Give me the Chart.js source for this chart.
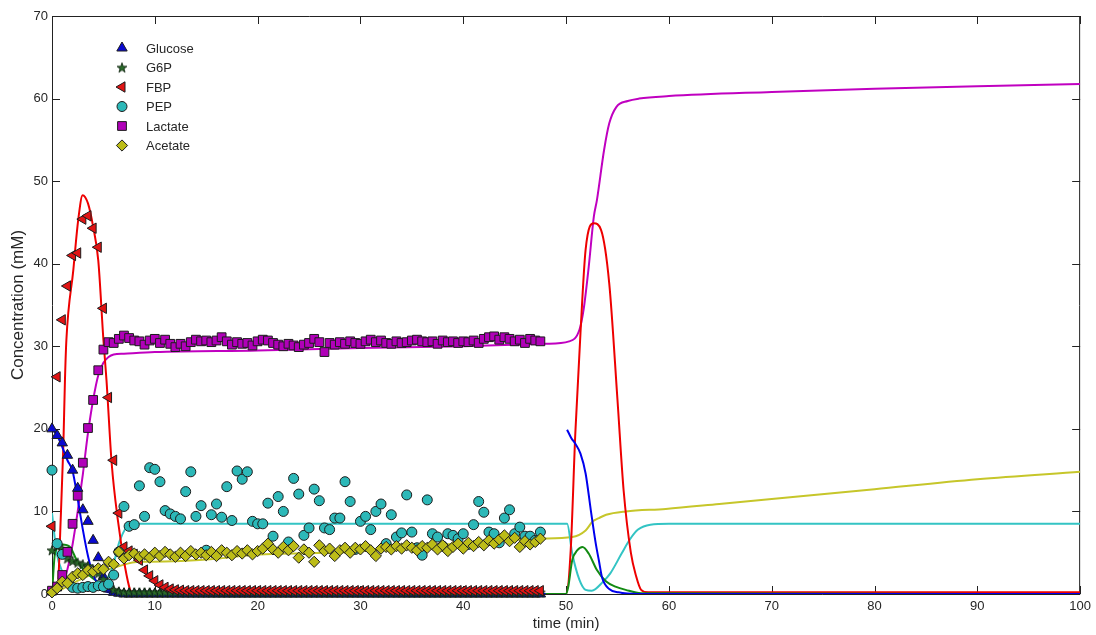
<!DOCTYPE html>
<html>
<head>
<meta charset="utf-8">
<script src="https://cdn.jsdelivr.net/npm/chart.js@4.4.0/dist/chart.umd.min.js"></script>
<style>
  html, body { margin: 0; padding: 0; background: #fff; }
  #wrap { width: 1096px; height: 635px; }
</style>
</head>
<body>
<div id="wrap"><canvas id="chart" width="1096" height="635"></canvas></div>
<script>
// measured samples (min)
const sampleTimes = [
  0, 0.5, 1, 1.5, 2, 2.5, 3, 3.5, 4, 4.5,
  5, 5.5, 6, 6.5, 7, 7.5, 8, 8.5, 9, 9.5,
  10, 10.5, 11, 11.5, 12, 12.5, 13, 13.5, 14, 14.5,
  15, 15.5, 16, 16.5, 17, 17.5, 18, 18.5, 19, 19.5,
  20, 20.5, 21, 21.5, 22, 22.5, 23, 23.5, 24, 24.5,
  25, 25.5, 26, 26.5, 27, 27.5, 28, 28.5, 29, 29.5,
  30, 30.5, 31, 31.5, 32, 32.5, 33, 33.5, 34, 34.5,
  35, 35.5, 36, 36.5, 37, 37.5, 38, 38.5, 39, 39.5,
  40, 40.5, 41, 41.5, 42, 42.5, 43, 43.5, 44, 44.5,
  45, 45.5, 46, 46.5, 47, 47.5
];
const glucosePts = [
  20, 19.2, 18.3, 16.8, 15.0, 12.8, 10.2, 8.8, 6.5, 4.4,
  2.1, 0.6, 0.2, 0.1, 0, 0, 0, 0, 0, 0,
  0, 0, 0, 0, 0, 0, 0, 0, 0, 0,
  0, 0, 0, 0, 0, 0, 0, 0, 0, 0,
  0, 0, 0, 0, 0, 0, 0, 0, 0, 0,
  0, 0, 0, 0, 0, 0, 0, 0, 0, 0,
  0, 0, 0, 0, 0, 0, 0, 0, 0, 0,
  0, 0, 0, 0, 0, 0, 0, 0, 0, 0,
  0, 0, 0, 0, 0, 0, 0, 0, 0, 0,
  0, 0, 0, 0, 0, 0
];
const g6pPts = [
  5.3, 5.8, 5.5, 4.3, 4.0, 3.8, 3.6, 3.4, 3.0, 2.5,
  1.8, 1.0, 0.5, 0.3, 0.2, 0.2, 0.2, 0.2, 0.2, 0.2,
  0.2, 0.2, 0.2, 0.2, 0.2, 0.2, 0.2, 0.2, 0.2, 0.2,
  0.2, 0.2, 0.2, 0.2, 0.2, 0.2, 0.2, 0.2, 0.2, 0.2,
  0.2, 0.2, 0.2, 0.2, 0.2, 0.2, 0.2, 0.2, 0.2, 0.2,
  0.2, 0.2, 0.2, 0.2, 0.2, 0.2, 0.2, 0.2, 0.2, 0.2,
  0.2, 0.2, 0.2, 0.2, 0.2, 0.2, 0.2, 0.2, 0.2, 0.2,
  0.2, 0.2, 0.2, 0.2, 0.2, 0.2, 0.2, 0.2, 0.2, 0.2,
  0.2, 0.2, 0.2, 0.2, 0.2, 0.2, 0.2, 0.2, 0.2, 0.2,
  0.2, 0.2, 0.2, 0.2, 0.2, 0.2
];
const fbpPts = [
  8.2, 26.3, 33.2, 37.3, 41.0, 41.3, 45.4, 45.8, 44.3, 42.0,
  34.6, 23.8, 16.2, 9.8, 5.7, 5.2, 4.8, 4.1, 2.9, 2.2,
  1.6, 1.1, 0.8, 0.6, 0.5, 0.45, 0.4, 0.4, 0.4, 0.4,
  0.4, 0.4, 0.4, 0.4, 0.4, 0.4, 0.4, 0.4, 0.4, 0.4,
  0.4, 0.4, 0.4, 0.4, 0.4, 0.4, 0.4, 0.4, 0.4, 0.4,
  0.4, 0.4, 0.4, 0.4, 0.4, 0.4, 0.4, 0.4, 0.4, 0.4,
  0.4, 0.4, 0.4, 0.4, 0.4, 0.4, 0.4, 0.4, 0.4, 0.4,
  0.4, 0.4, 0.4, 0.4, 0.4, 0.4, 0.4, 0.4, 0.4, 0.4,
  0.4, 0.4, 0.4, 0.4, 0.4, 0.4, 0.4, 0.4, 0.4, 0.4,
  0.4, 0.4, 0.4, 0.4, 0.4, 0.4
];
const pepPts = [
  15.0, 6.1, 4.8, 1.5, 0.8, 0.7, 0.8, 0.9, 0.8, 1.0,
  0.9, 1.2, 2.3, 5.1, 10.6, 8.2, 8.4, 13.1, 9.4, 15.3,
  15.1, 13.6, 10.1, 9.7, 9.4, 9.1, 12.4, 14.8, 9.4, 10.7,
  5.3, 9.6, 10.9, 9.3, 13.0, 8.9, 14.9, 13.9, 14.8, 8.8,
  8.5, 8.5, 11.0, 7.0, 11.8, 10.0, 6.3, 14.0, 12.1, 7.1,
  8.0, 12.7, 11.3, 8.0, 7.8, 9.2, 9.2, 13.6, 11.2, 5.4,
  8.8, 9.4, 7.8, 10.0, 10.9, 6.1, 9.6, 6.9, 7.4, 12.0,
  7.5, 5.6, 4.7, 11.4, 7.3, 6.9, 5.8, 7.3, 7.1, 6.7,
  7.3, 6.0, 8.4, 11.2, 9.9, 7.5, 7.3, 6.2, 9.2, 10.2,
  7.3, 8.1, 7.0, 7.0, 6.5, 7.5
];
const lactatePts = [
  0.4, 0.9, 2.3, 5.1, 8.5, 11.9, 15.9, 20.1, 23.5, 27.1,
  29.6, 30.5, 30.4, 30.9, 31.3, 31.0, 30.7, 30.6, 30.2, 30.7,
  30.9, 30.4, 30.8, 30.3, 29.9, 30.3, 30.0, 30.5, 30.8, 30.6,
  30.7, 30.5, 30.7, 31.1, 30.6, 30.2, 30.5, 30.3, 30.4, 30.1,
  30.6, 30.8, 30.7, 30.4, 30.2, 30.0, 30.3, 30.1, 29.9, 30.2,
  30.4, 30.9, 30.5, 29.3, 30.4, 30.2, 30.5, 30.3, 30.6, 30.4,
  30.3, 30.6, 30.8, 30.5, 30.7, 30.4, 30.3, 30.6, 30.4, 30.5,
  30.7, 30.8, 30.6, 30.5, 30.6, 30.3, 30.7, 30.5, 30.6, 30.4,
  30.6, 30.5, 30.7, 30.4, 30.9, 31.1, 31.2, 30.8, 31.1, 30.9,
  30.6, 30.8, 30.4, 30.9, 30.7, 30.6
];
const acetatePts = [
  0.2, 0.7, 1.5, 1.3, 2.1, 2.5, 2.3, 2.9, 2.7, 3.1,
  3.0, 3.9, 3.6, 5.1, 4.3, 4.7, 4.9, 4.5, 4.8, 4.4,
  5.0, 4.6, 5.1, 4.8, 4.5, 5.0, 4.6, 5.2, 4.8, 5.0,
  4.7, 5.1, 4.6, 5.3, 5.0, 4.7, 5.2, 4.9, 5.3, 4.8,
  5.2, 5.5, 6.1, 5.4, 5.0, 5.7, 5.3, 5.8, 4.4, 5.4,
  5.0, 3.9, 5.9, 5.2, 5.5, 4.6, 5.3, 5.6, 5.0, 5.6,
  5.4, 5.8, 5.3, 4.6, 5.5, 5.7, 5.4, 5.8, 5.5, 5.9,
  5.6, 5.3, 5.8, 5.6, 6.0, 5.4, 5.9, 5.2, 5.7, 6.1,
  5.5, 6.2, 5.8, 6.3, 5.9, 6.5, 6.1, 6.6, 7.1, 6.4,
  6.8, 5.7, 6.4, 6.0, 6.3, 6.7
];

// model curves (null = break in the line)
const glucoseFitT = [0, 0.5, 1, 1.5, 2, 2.5, 3, 3.5, 4, 4.5, 5, 5.5, 6, 7, 48, 49, 50.1, 50.5, 50.9, 51.4, 51.9, 52.4, 52.9, 53.2, 53.5, 54.2, 55.1, 57, 100];
const glucoseFitY = [20, 19.2, 17.8, 16.2, 14.9, 11.5, 7.8, 4.6, 2.3, 1.2, 0.5, 0.2, 0.1, 0, 0, null, 19.9, 18.9, 18.2, 17.0, 14.6, 10.2, 6.0, 4.0, 2.0, 0.6, 0.2, 0, 0];
const g6pFitT = [0, 0.3, 1, 1.75, 2.4, 3.4, 4.7, 6.3, 8, 50, 50.2, 50.6, 51.1, 51.6, 52.2, 53.0, 53.9, 54.8, 55.8, 57.3, 100];
const g6pFitY = [0, 5.0, 6.0, 5.7, 4.1, 2.5, 1.3, 0.5, 0.1, 0, 0.8, 4.1, 5.3, 5.7, 4.9, 2.9, 1.5, 0.9, 0.5, 0.1, 0];
const fbpFitT = [0, 0.5, 0.87, 1.1, 1.26, 1.4, 2.07, 2.55, 2.98, 3.5, 4.0, 4.5, 5.0, 5.3, 5.8, 6.4, 7.1, 7.6, 8, 50, 50.45, 50.9, 51.4, 51.9, 52.7, 53.4, 54.2, 55.0, 55.6, 56.3, 56.8, 57.3, 58, 100];
const fbpFitY = [0, 0, 9.8, 17.8, 25.9, 30.8, 39.2, 45.3, 48.3, 47.3, 44.5, 40.4, 30.8, 25.9, 15.9, 9.0, 3.3, 0.5, 0, 0, 5.3, 19.5, 31.6, 41.7, 44.9, 44.1, 37.6, 23.5, 12.5, 5.0, 2.2, 0.5, 0.2, 0.2];
const pepFitT = [0, 0.45, 1.07, 2, 3, 4, 4.8, 5.9, 6.6, 7.6, 8.5, 50.1, 50.6, 51.3, 51.9, 52.5, 53.6, 54.3, 55.4, 56.2, 57, 58.2, 60, 100];
const pepFitY = [9.8, 5.0, 2.5, 0.8, 0.5, 0.5, 0.9, 3.3, 6.5, 8.4, 8.5, 8.5, 4.9, 1.7, 0.5, 0.4, 1.5, 2.5, 4.9, 6.6, 7.8, 8.4, 8.5, 8.5];
const lactateFitT = [0, 1, 1.5, 2, 2.5, 3, 3.5, 4, 4.5, 5, 5.5, 6, 7, 10, 20, 30, 40, 48, 50.3, 51.3, 51.7, 52.2, 52.7, 53.0, 53.7, 54.2, 54.9, 56, 57.1, 60, 70, 80, 90, 100];
const lactateFitY = [0, 1.2, 3, 6, 10, 14.5, 19.5, 23.5, 26.5, 28, 28.7, 29, 29.1, 29.3, 29.5, 29.8, 30.0, 30.3, 30.6, 32, 34.4, 39.6, 45.7, 47.7, 53.8, 57, 59, 59.7, 60, 60.3, 60.8, 61.2, 61.5, 61.75];
const acetateFitT = [0, 1, 2, 3, 4, 5, 6.3, 8.5, 9.5, 16.3, 19.2, 28.9, 41.6, 47.4, 50.6, 51.9, 52.6, 53.2, 53.9, 55.8, 59.7, 64.9, 70, 80, 90, 100];
const acetateFitY = [0, 0.6, 1.3, 1.9, 2.4, 2.8, 3.3, 3.9, 3.9, 4.3, 4.7, 5.1, 6.3, 6.7, 6.9, 7.7, 8.8, 9.2, 9.6, 10.0, 10.3, 10.9, 11.5, 12.7, 13.9, 14.8];

const FONT = '"Liberation Sans", Arial, Helvetica, sans-serif';
const TEXT = '#262626';

const toXY = (ts, ys) => ts.map((t, i) => ({ x: t, y: ys[i] }));

// filled five-point star, like the MATLAB pentagram marker
function makeStar(fill, edge) {
  const c = document.createElement('canvas');
  c.width = 12; c.height = 12;
  const g = c.getContext('2d');
  g.beginPath();
  for (let k = 0; k < 10; k++) {
    const r = k % 2 ? 2.1 : 5.2;
    const ang = -Math.PI / 2 + k * Math.PI / 5;
    g.lineTo(6 + r * Math.cos(ang), 6.5 + r * Math.sin(ang));
  }
  g.closePath();
  g.fillStyle = fill; g.fill();
  g.strokeStyle = edge; g.lineWidth = 0.8; g.stroke();
  return c;
}

function markerSet(label, values, shape, radius, fill, order, rotation) {
  return {
    label: label,
    data: toXY(sampleTimes, values),
    showLine: false,
    pointStyle: shape,
    pointRotation: rotation || 0,
    pointRadius: radius,
    pointBackgroundColor: fill,
    pointBorderColor: '#1c1c1c',
    pointBorderWidth: 1,
    order: order,
    clip: false,
    inLegend: true
  };
}

function fitSet(ts, ys, color) {
  return {
    label: '',
    data: toXY(ts, ys),
    showLine: true,
    pointRadius: 0,
    borderColor: color,
    borderWidth: 2,
    cubicInterpolationMode: 'monotone',
    spanGaps: false,
    order: 50,
    inLegend: false
  };
}

const datasets = [
  markerSet('Glucose', glucosePts, 'triangle', 6, '#0a0ad0', 6),
  markerSet('G6P', g6pPts, makeStar('#2a6a2a', '#0c200c'), 5, '#2a6a2a', 5),
  markerSet('FBP', fbpPts, 'triangle', 6, '#e01414', 4, 270),
  markerSet('PEP', pepPts, 'circle', 5, '#2cb8b8', 3),
  markerSet('Lactate', lactatePts, 'rect', 6.2, '#b000b8', 2),
  markerSet('Acetate', acetatePts, 'rectRot', 5.6, '#bcbc18', 1),
  fitSet(glucoseFitT, glucoseFitY, '#0000ee'),
  fitSet(g6pFitT, g6pFitY, '#128a12'),
  fitSet(fbpFitT, fbpFitY, '#ee0000'),
  fitSet(pepFitT, pepFitY, '#33c4c4'),
  fitSet(lactateFitT, lactateFitY, '#c000c0'),
  fitSet(acetateFitT, acetateFitY, '#c6c62a')
];

// box and inward ticks, drawn under the data
const framePlugin = {
  id: 'frame',
  beforeDatasetsDraw(chart) {
    const { ctx, chartArea: a, scales } = chart;
    const tick = 8;
    ctx.save();
    ctx.strokeStyle = '#222';
    ctx.lineWidth = 1;
    ctx.beginPath();
    ctx.rect(a.left + 0.5, a.top + 0.5, a.right - a.left - 1, a.bottom - a.top);
    scales.x.ticks.forEach(t => {
      const px = Math.round(scales.x.getPixelForValue(t.value)) + 0.5;
      ctx.moveTo(px, a.bottom); ctx.lineTo(px, a.bottom - tick);
      ctx.moveTo(px, a.top); ctx.lineTo(px, a.top + tick);
    });
    scales.y.ticks.forEach(t => {
      const py = Math.round(scales.y.getPixelForValue(t.value)) + 0.5;
      ctx.moveTo(a.left, py); ctx.lineTo(a.left + tick, py);
      ctx.moveTo(a.right, py); ctx.lineTo(a.right - tick, py);
    });
    ctx.stroke();
    ctx.restore();
  }
};

// legend sitting inside the axes, top-left
const legendPlugin = {
  id: 'insideLegend',
  afterDraw(chart) {
    const { ctx, chartArea: a } = chart;
    ctx.save();
    ctx.font = '13px ' + FONT;
    ctx.textBaseline = 'middle';
    let row = 0;
    chart.data.datasets.forEach(ds => {
      if (!ds.inLegend) return;
      const yy = a.top + 32 + row * 19.5;
      const xx = a.left + 70;
      ctx.fillStyle = ds.pointBackgroundColor;
      ctx.strokeStyle = ds.pointBorderColor;
      ctx.lineWidth = 1;
      Chart.helpers.drawPoint(ctx, {
        pointStyle: ds.pointStyle,
        rotation: ds.pointRotation,
        radius: ds.pointRadius,
        borderWidth: 1
      }, xx, yy);
      ctx.fillStyle = TEXT;
      ctx.fillText(ds.label, a.left + 94, yy + 1);
      row++;
    });
    ctx.restore();
  }
};

new Chart(document.getElementById('chart'), {
  type: 'scatter',
  data: { datasets: datasets },
  options: {
    responsive: false,
    animation: false,
    events: [],
    layout: { padding: { top: 16, right: 14, bottom: 0, left: 0 } },
    plugins: {
      legend: { display: false },
      tooltip: { enabled: false }
    },
    scales: {
      x: {
        type: 'linear',
        min: 0,
        max: 100,
        grid: { display: false, drawTicks: false },
        border: { display: false },
        ticks: { stepSize: 10, autoSkip: false, maxRotation: 0, padding: 5, color: TEXT, font: { family: FONT, size: 13 } },
        title: { display: true, text: 'time (min)', color: TEXT, padding: { top: 0, bottom: 2 }, font: { family: FONT, size: 15 } },
        afterFit(scale) { scale.height = 41; }
      },
      y: {
        type: 'linear',
        min: 0,
        max: 70,
        grid: { display: false, drawTicks: false },
        border: { display: false },
        ticks: { stepSize: 10, padding: 4, color: TEXT, font: { family: FONT, size: 13 } },
        title: { display: true, text: 'Concentration (mM)', color: TEXT, padding: { top: 8, bottom: 0 }, font: { family: FONT, size: 17 } },
        afterFit(scale) { scale.width = 52; }
      }
    }
  },
  plugins: [framePlugin, legendPlugin]
});
</script>
</body>
</html>
